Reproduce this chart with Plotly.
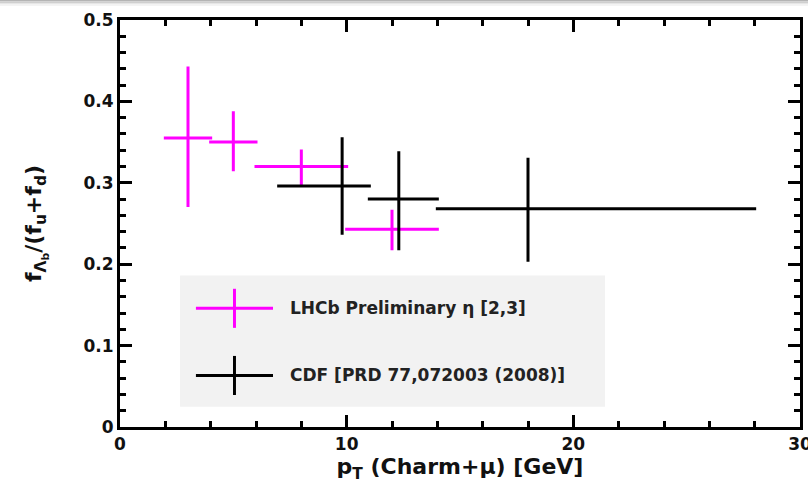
import plotly.graph_objects as go

# LHCb preliminary, eta in [2,3]
lhcb_pt = [3.0, 5.0, 8.0, 12.0]
lhcb_pt_lo = [2.0, 4.0, 6.0, 10.0]
lhcb_pt_hi = [4.0, 6.0, 10.0, 14.0]
lhcb_ratio = [0.355, 0.350, 0.320, 0.243]
lhcb_err_up = [0.086, 0.036, 0.019, 0.022]
lhcb_err_dn = [0.083, 0.034, 0.022, 0.024]

# CDF, PRD 77, 072003 (2008)
cdf_pt = [9.8, 12.3, 18.0]
cdf_pt_lo = [7.0, 11.0, 14.0]
cdf_pt_hi = [11.0, 14.0, 28.0]
cdf_ratio = [0.296, 0.280, 0.268]
cdf_err_up = [0.058, 0.057, 0.061]
cdf_err_dn = [0.058, 0.061, 0.063]

legend_labels = ["LHCb Preliminary \u03b7 [2,3]", "CDF [PRD 77,072003 (2008)]"]
series_colors = ["#ff00ff", "#000000"]

FONT = "DejaVu Sans"
W, H = 808, 490
ML, MR, MT, MB = 120, 8, 20, 63


def data_trace(x, lo, hi, y, up, dn, color):
    return go.Scatter(
        x=x, y=y, mode="markers",
        marker=dict(size=1, color=color),
        error_x=dict(type="data", symmetric=False,
                     array=[h - c for h, c in zip(hi, x)],
                     arrayminus=[c - l for c, l in zip(x, lo)],
                     color=color, thickness=3, width=1.5),
        error_y=dict(type="data", symmetric=False, array=up, arrayminus=dn,
                     color=color, thickness=3, width=1.5),
        showlegend=False, hoverinfo="skip",
    )


fig = go.Figure()
fig.add_trace(data_trace(lhcb_pt, lhcb_pt_lo, lhcb_pt_hi, lhcb_ratio,
                         lhcb_err_up, lhcb_err_dn, series_colors[0]))
fig.add_trace(data_trace(cdf_pt, cdf_pt_lo, cdf_pt_hi, cdf_ratio,
                         cdf_err_up, cdf_err_dn, series_colors[1]))

# legend box drawn in data space (it sits clear of all data marks)
box_x0, box_x1, box_y0, box_y1 = 2.65, 21.4, 0.025, 0.186
key_xc, key_half_w, key_half_h = 5.05, 1.7, 0.024
key_rows = [0.1458, 0.0633]
text_x = 7.41

shapes = [dict(type="rect", xref="x", yref="y", x0=box_x0, x1=box_x1,
               y0=box_y0, y1=box_y1, fillcolor="#f2f2f2",
               line=dict(width=0), layer="above")]
annotations = []
for yc, col, lab in zip(key_rows, series_colors, legend_labels):
    shapes.append(dict(type="line", xref="x", yref="y",
                       x0=key_xc - key_half_w, x1=key_xc + key_half_w,
                       y0=yc, y1=yc, line=dict(color=col, width=3)))
    shapes.append(dict(type="line", xref="x", yref="y",
                       x0=key_xc, x1=key_xc,
                       y0=yc - key_half_h, y1=yc + key_half_h,
                       line=dict(color=col, width=3)))
    annotations.append(dict(x=text_x, y=yc, xref="x", yref="y", text=lab,
                            showarrow=False, xanchor="left", yanchor="middle",
                            font=dict(family=FONT, size=17, color="#222",
                                      weight="bold")))

# soft grey band along the top edge of the page
plot_w = W - ML - MR
plot_h = H - MT - MB
for i, g in enumerate(["#b4b4b4", "#cfcfcf", "#e6e6e6", "#f4f4f4"]):
    shapes.append(dict(type="rect", xref="paper", yref="paper",
                       x0=-ML / plot_w - 0.01, x1=1 + MR / plot_w + 0.01,
                       y0=1 + (MT - 1.5 * (i + 1)) / plot_h,
                       y1=1 + (MT - 1.5 * i) / plot_h,
                       fillcolor=g, line=dict(width=0), layer="above"))

tick_font = dict(family=FONT, size=17, color="#111", weight="bold")
title_font = dict(family=FONT, size=22, color="#111", weight="bold")

axis_common = dict(
    showgrid=False, zeroline=False, automargin=False,
    showline=True, linecolor="#000", linewidth=3, mirror="allticks",
    ticks="inside", ticklen=12, tickwidth=2.5, tickcolor="#000",
    tickfont=tick_font, ticklabeloverflow="allow",
)

fig.update_layout(
    width=W, height=H,
    margin=dict(l=ML, r=MR, t=MT, b=MB, pad=0),
    paper_bgcolor="white", plot_bgcolor="rgba(0,0,0,0)",
    shapes=shapes, annotations=annotations,
    xaxis=dict(range=[0, 30], dtick=10, tick0=0,
               minor=dict(dtick=2, ticks="inside", ticklen=6,
                          tickcolor="#000"),
               title=dict(text="p<sub>T</sub> (Charm+\u03bc) [GeV]",
                          font=title_font, standoff=2),
               **axis_common),
    yaxis=dict(range=[0, 0.5], dtick=0.1, tick0=0,
               minor=dict(dtick=0.02, ticks="inside", ticklen=6,
                          tickcolor="#000"),
               title=dict(text="f<sub>\u039b<sub>b</sub></sub>/(f<sub>u</sub>+f<sub>d</sub>)",
                          font=title_font, standoff=36),
               **axis_common),
)

fig.write_html("out.html")
